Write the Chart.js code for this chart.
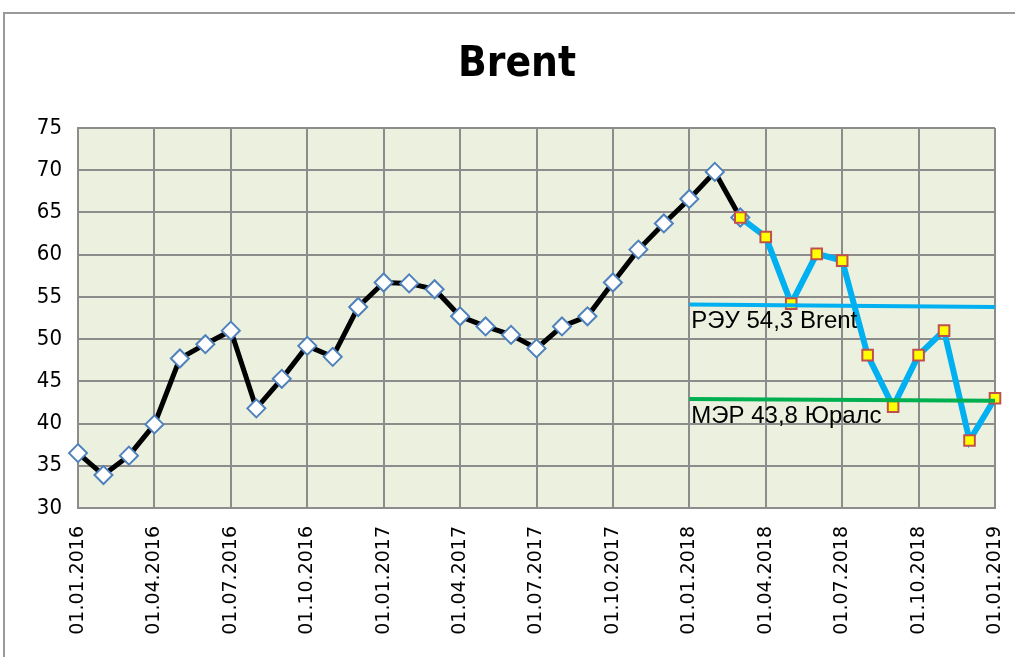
<!DOCTYPE html>
<html>
<head>
<meta charset="utf-8">
<script src="https://cdn.jsdelivr.net/npm/chart.js@4/dist/chart.umd.min.js"></script>
<style>
  body { margin: 0; background: #fff; }
  canvas { display: block; }
</style>
</head>
<body>
<canvas id="brentChart" width="1015" height="657"></canvas>
<script>
// monthly dates, Jan 2016 .. Jan 2019
const months = [
    "01.01.2016", "01.02.2016", "01.03.2016", "01.04.2016", "01.05.2016", "01.06.2016",
    "01.07.2016", "01.08.2016", "01.09.2016", "01.10.2016", "01.11.2016", "01.12.2016",
    "01.01.2017", "01.02.2017", "01.03.2017", "01.04.2017", "01.05.2017", "01.06.2017",
    "01.07.2017", "01.08.2017", "01.09.2017", "01.10.2017", "01.11.2017", "01.12.2017",
    "01.01.2018", "01.02.2018", "01.03.2018", "01.04.2018", "01.05.2018", "01.06.2018",
    "01.07.2018", "01.08.2018", "01.09.2018", "01.10.2018", "01.11.2018", "01.12.2018",
    "01.01.2019"
];

// Brent, actual (black line, diamonds)
const brentActual = [
    36.5, 33.9, 36.2, 39.9, 47.7, 49.4, 51.0, 41.8, 45.3, 49.2, 47.9, 53.8,
    56.7, 56.6, 55.9, 52.7, 51.5, 50.5, 48.9, 51.5, 52.7, 56.7, 60.6, 63.7,
    66.6, 69.8, 64.4, null, null, null, null, null, null, null, null, null,
    null
];

// Brent, 2018 path (blue line, squares)
const brentPath = [
    null, null, null, null, null, null, null, null, null, null, null, null,
    null, null, null, null, null, null, null, null, null, null, null, null,
    null, null, 64.4, 62.1, 54.2, 60.1, 59.3, 48.1, 42.0, 48.1, 51.0, 38.0,
    43.0
];

// forecast levels, start and end of 2018
const reuLevel = [54.1, 53.8];
const merLevel = [42.9, 42.7];
const levelStart = 24;
const levelEnd = 36;

const yTicks = [30, 35, 40, 45, 50, 55, 60, 65, 70, 75];

function levelSeries(vals) {
    return months.map(function (m, i) {
        if (i === levelStart) return vals[0];
        if (i === levelEnd) return vals[1];
        return null;
    });
}

const gridColor = "#8c8c8c";
const narrow = "'Liberation Sans Narrow', 'DejaVu Sans Condensed', 'Liberation Sans', sans-serif";

const decorPlugin = {
    id: "decor",
    beforeDraw(chart) {
        const c = chart.ctx, a = chart.chartArea;
        c.save();
        c.fillStyle = "#ebf1de";
        c.fillRect(a.left, a.top, a.right - a.left, a.bottom - a.top);
        // outer frame
        c.strokeStyle = "#9a9a9a";
        c.lineWidth = 2;
        c.beginPath();
        c.moveTo(4, 657);
        c.lineTo(4, 13);
        c.lineTo(1015, 13);
        c.stroke();
        // title
        c.fillStyle = "#000";
        c.font = "bold 42px " + narrow;
        c.textAlign = "center";
        c.textBaseline = "middle";
        c.fillText("Brent", 517, 65);
        c.restore();
    },
    afterDatasetsDraw(chart) {
        const c = chart.ctx;
        const xs = chart.scales.x, ys = chart.scales.y;
        c.save();
        c.fillStyle = "#000";
        c.font = "24px 'Liberation Sans', sans-serif";
        c.textAlign = "left";
        c.textBaseline = "top";
        const x0 = xs.getPixelForValue(levelStart) + 2;
        c.fillText("РЭУ 54,3 Brent", x0, ys.getPixelForValue(reuLevel[0]) + 5);
        c.fillText("МЭР 43,8 Юралс", x0, ys.getPixelForValue(merLevel[0]) + 5);
        c.restore();
    }
};

new Chart(document.getElementById("brentChart").getContext("2d"), {
    type: "line",
    data: {
        labels: months,
        datasets: [
            {
                label: "РЭУ",
                data: levelSeries(reuLevel),
                borderColor: "#00b0f0",
                borderWidth: 4,
                pointRadius: 0,
                spanGaps: true
            },
            {
                label: "МЭР",
                data: levelSeries(merLevel),
                borderColor: "#00b050",
                borderWidth: 4,
                pointRadius: 0,
                spanGaps: true
            },
            {
                label: "Brent 2018",
                data: brentPath,
                borderColor: "#00b0f0",
                borderWidth: 6,
                pointStyle: "rect",
                pointRadius: 7.5,
                pointBackgroundColor: "#ffff00",
                pointBorderColor: "#c0504d",
                pointBorderWidth: 2
            },
            {
                label: "Brent",
                data: brentActual,
                borderColor: "#000",
                borderWidth: 5,
                pointStyle: "rectRot",
                pointRadius: 9,
                pointBackgroundColor: "#fff",
                pointBorderColor: "#4f81bd",
                pointBorderWidth: 2
            }
        ]
    },
    options: {
        responsive: false,
        animation: false,
        devicePixelRatio: 1,
        layout: { padding: { top: 128, right: 20, left: 0, bottom: 0 } },
        elements: { line: { tension: 0 } },
        plugins: {
            legend: { display: false },
            tooltip: { enabled: false }
        },
        scales: {
            x: {
                grid: {
                    color: ctx => ctx.index % 3 === 0 ? gridColor : "rgba(0,0,0,0)",
                    lineWidth: 2,
                    drawTicks: false
                },
                border: { color: gridColor, width: 2 },
                ticks: {
                    autoSkip: false,
                    minRotation: 90,
                    maxRotation: 90,
                    padding: 18,
                    color: "#000",
                    font: { family: "'DejaVu Sans', sans-serif", size: 19 },
                    callback: function (v, i) { return i % 3 === 0 ? months[i] : ""; }
                },
                afterFit: function (s) {
                    s.height = 149;
                    s.paddingLeft = 0;
                    s.paddingRight = 0;
                }
            },
            y: {
                min: 30,
                max: 75,
                afterBuildTicks: function (s) { s.ticks = yTicks.map(v => ({ value: v })); },
                grid: { color: gridColor, lineWidth: 2, drawTicks: false },
                border: { color: gridColor, width: 2 },
                ticks: {
                    padding: 16,
                    color: "#000",
                    font: { family: narrow, size: 22 }
                },
                afterFit: function (s) { s.width = 78; }
            }
        }
    },
    plugins: [decorPlugin]
});
</script>
</body>
</html>
